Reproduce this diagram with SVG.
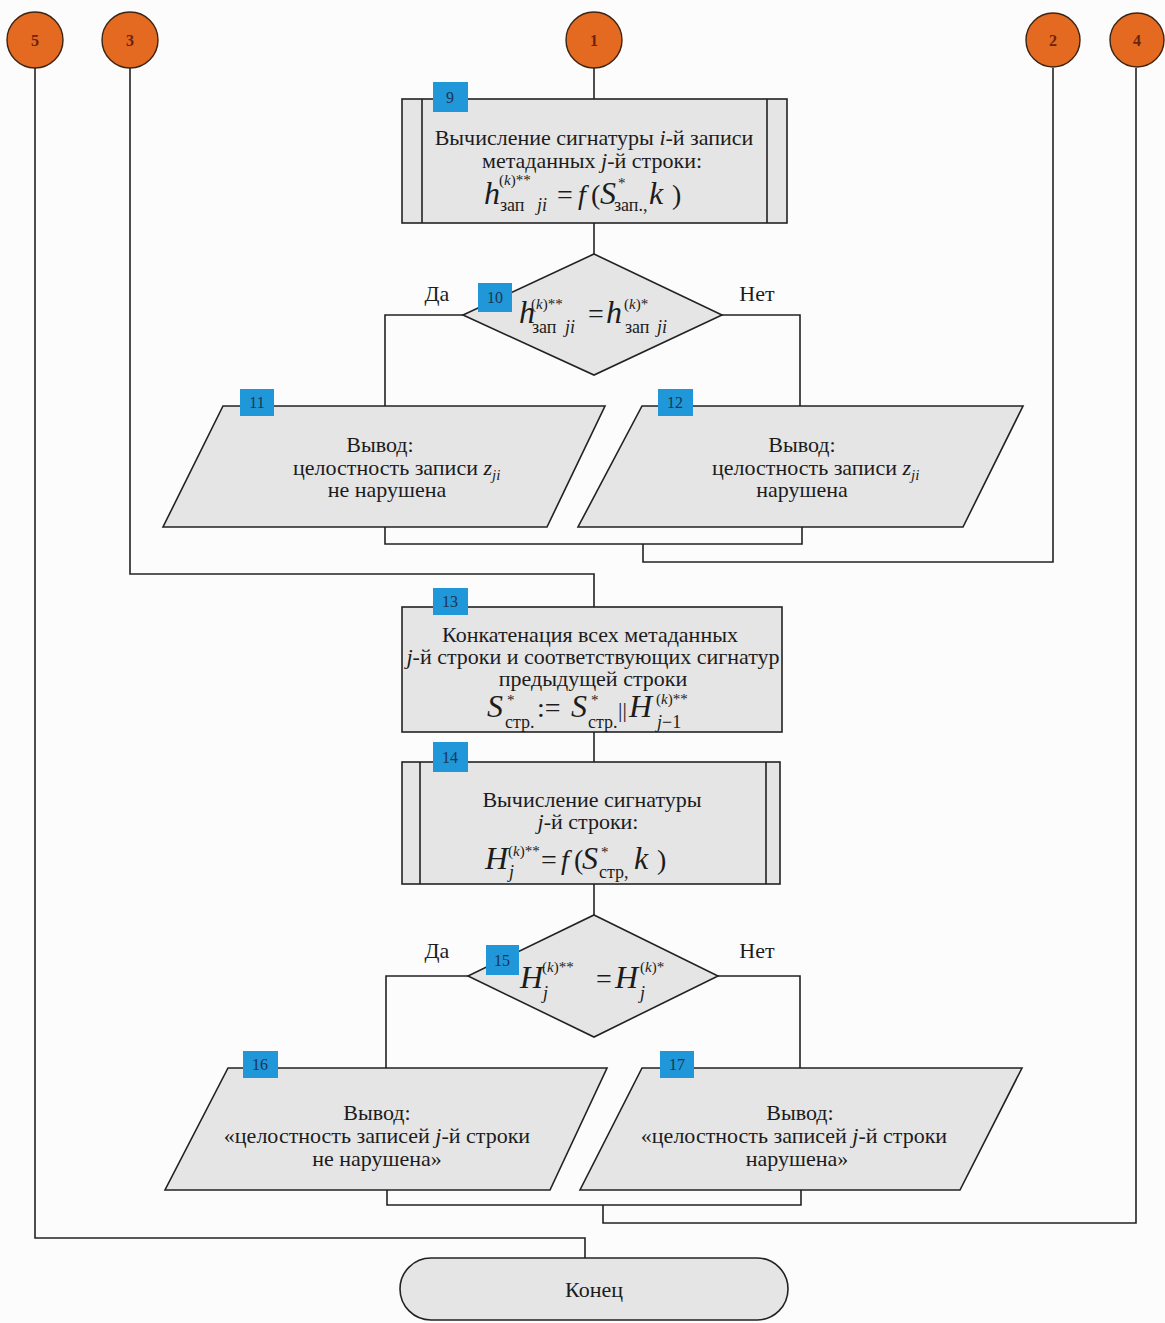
<svg xmlns="http://www.w3.org/2000/svg" width="1165" height="1323" viewBox="0 0 1165 1323">
  <style>
    .t { font-family: "Liberation Serif", "Times New Roman", serif; font-size: 22px; fill: #1c1c1c; }
    .m { font-size: 32px; font-style: italic; }
    .r { font-size: 28px; }
    .sp { font-size: 15px; }
    .sb { font-size: 18px; }
    .i { font-style: italic; }
    .shape { fill: #e5e5e5; stroke: #222; stroke-width: 1.6; }
    .wire { fill: none; stroke: #222; stroke-width: 1.6; }
    .badge { fill: #1f97d9; }
    .bt { font-family: "Liberation Serif", serif; font-size: 16px; fill: #1d3550; text-anchor: middle; }
    .conn { fill: #e36a20; stroke: #3a2414; stroke-width: 1.4; }
    .ct { font-family: "Liberation Serif", serif; font-size: 16px; font-weight: bold; fill: #6b2410; text-anchor: middle; }
    .c { text-anchor: middle; }
  </style>
  <rect width="1165" height="1323" fill="#fcfcfc"/>

  <!-- connectors -->
  <g id="connectors">
    <path class="wire" d="M594 68 V99"/>
    <path class="wire" d="M594 223 V254"/>
    <path class="wire" d="M463 315 H385 V406"/>
    <path class="wire" d="M722 315 H800 V406"/>
    <path class="wire" d="M385 527 V544 H802 V527"/>
    <path class="wire" d="M643 544 V562 H1053 V68"/>
    <path class="wire" d="M130 68 V574 H594 V607"/>
    <path class="wire" d="M594 732 V762"/>
    <path class="wire" d="M594 884 V915"/>
    <path class="wire" d="M468 976 H386 V1068"/>
    <path class="wire" d="M718 976 H800 V1068"/>
    <path class="wire" d="M387 1190 V1205 H801 V1190"/>
    <path class="wire" d="M603 1205 V1223 H1136 V68"/>
    <path class="wire" d="M35 68 V1238 H585 V1258"/>
  </g>

  <!-- off-page connectors -->
  <g id="conn-5"><circle class="conn" cx="35" cy="40" r="28"/><text class="ct" x="35" y="46">5</text></g>
  <g id="conn-3"><circle class="conn" cx="130" cy="40" r="28"/><text class="ct" x="130" y="46">3</text></g>
  <g id="conn-1"><circle class="conn" cx="594" cy="40" r="28"/><text class="ct" x="594" y="46">1</text></g>
  <g id="conn-2"><circle class="conn" cx="1053" cy="40" r="27"/><text class="ct" x="1053" y="46">2</text></g>
  <g id="conn-4"><circle class="conn" cx="1137" cy="40" r="27"/><text class="ct" x="1137" y="46">4</text></g>

  <!-- 9: record signature subroutine -->
  <g id="node-9">
    <rect class="shape" x="402" y="99" width="385" height="124"/>
    <path class="wire" d="M422 99 V223 M767 99 V223"/>
    <rect class="badge" x="433" y="82" width="35" height="30"/>
    <text class="bt" x="450" y="103">9</text>
    <text class="t c" x="594" y="145">Вычисление сигнатуры  <tspan class="i">i</tspan>-й записи</text>
    <text class="t c" x="592" y="168">метаданных <tspan class="i">j</tspan>-й строки:</text>
    <text class="t m" x="484" y="204">h</text>
    <text class="t sp" x="499" y="185">(<tspan class="i">k</tspan>)**</text>
    <text class="t sb" x="500" y="211">зап</text>
    <text class="t sb i" x="537" y="211">ji</text>
    <text class="t r" x="557" y="204">=</text>
    <text class="t r i" x="578" y="204">f</text>
    <text class="t r" x="591" y="204">(</text>
    <text class="t m" x="600" y="204">S</text>
    <text class="t sp" x="618" y="188">*</text>
    <text class="t sb" x="614" y="211">зап.,</text>
    <text class="t m" x="649" y="204">k</text>
    <text class="t r" x="672" y="204">)</text>
  </g>

  <!-- 10: record signature check -->
  <g id="node-10">
    <polygon class="shape" points="594,254 722,315 594,375 463,315"/>
    <rect class="badge" x="478" y="283" width="34" height="29"/>
    <text class="bt" x="495" y="303">10</text>
    <text class="t m" x="519" y="323">h</text>
    <text class="t sp" x="531" y="309">(<tspan class="i">k</tspan>)**</text>
    <text class="t sb" x="532" y="333">зап</text>
    <text class="t sb i" x="565" y="333">ji</text>
    <text class="t r" x="588" y="323">=</text>
    <text class="t m" x="606" y="323">h</text>
    <text class="t sp" x="624" y="309">(<tspan class="i">k</tspan>)*</text>
    <text class="t sb" x="625" y="333">зап</text>
    <text class="t sb i" x="657" y="333">ji</text>
    <text class="t c" x="437" y="301">Да</text>
    <text class="t c" x="757" y="301">Нет</text>
  </g>

  <!-- 11: record intact -->
  <g id="node-11">
    <polygon class="shape" points="223,406 605,406 547,527 163,527"/>
    <rect class="badge" x="240" y="389" width="34" height="27"/>
    <text class="bt" x="257" y="408">11</text>
    <text class="t c" x="380" y="452">Вывод:</text>
    <text class="t" x="293" y="475">целостность записи <tspan class="i">z</tspan><tspan class="i" font-size="15" dy="5">ji</tspan></text>
    <text class="t c" x="387" y="497">не нарушена</text>
  </g>

  <!-- 12: record violated -->
  <g id="node-12">
    <polygon class="shape" points="642,406 1023,406 963,527 578,527"/>
    <rect class="badge" x="658" y="389" width="35" height="27"/>
    <text class="bt" x="675" y="408">12</text>
    <text class="t c" x="802" y="452">Вывод:</text>
    <text class="t" x="712" y="475">целостность записи <tspan class="i">z</tspan><tspan class="i" font-size="15" dy="5">ji</tspan></text>
    <text class="t c" x="802" y="497">нарушена</text>
  </g>

  <!-- 13: concatenation -->
  <g id="node-13">
    <rect class="shape" x="402" y="607" width="380" height="125"/>
    <rect class="badge" x="433" y="588" width="35" height="27"/>
    <text class="bt" x="450" y="607">13</text>
    <text class="t c" x="590" y="642">Конкатенация всех метаданных</text>
    <text class="t c" x="593" y="664"><tspan class="i">j</tspan>-й строки и соответствующих сигнатур</text>
    <text class="t c" x="593" y="686">предыдущей строки</text>
    <text class="t m" x="487" y="717">S</text>
    <text class="t sp" x="507" y="705">*</text>
    <text class="t sb" x="505" y="728">стр.</text>
    <text class="t r" x="537" y="717">:=</text>
    <text class="t m" x="571" y="717">S</text>
    <text class="t sp" x="591" y="705">*</text>
    <text class="t sb" x="588" y="728">стр.</text>
    <text class="t" x="618" y="717" font-size="24">||</text>
    <text class="t m" x="629" y="717">H</text>
    <text class="t sp" x="656" y="704">(<tspan class="i">k</tspan>)**</text>
    <text class="t sb" x="657" y="728"><tspan class="i">j</tspan>−1</text>
  </g>

  <!-- 14: row signature subroutine -->
  <g id="node-14">
    <rect class="shape" x="402" y="762" width="378" height="122"/>
    <path class="wire" d="M420 762 V884 M766 762 V884"/>
    <rect class="badge" x="433" y="742" width="35" height="30"/>
    <text class="bt" x="450" y="763">14</text>
    <text class="t c" x="592" y="807">Вычисление сигнатуры</text>
    <text class="t c" x="588" y="829"><tspan class="i">j</tspan>-й строки:</text>
    <text class="t m" x="485" y="869">H</text>
    <text class="t sp" x="508" y="856">(<tspan class="i">k</tspan>)**</text>
    <text class="t sb i" x="509" y="878">j</text>
    <text class="t r" x="541" y="869">=</text>
    <text class="t r i" x="561" y="869">f</text>
    <text class="t r" x="574" y="869">(</text>
    <text class="t m" x="582" y="869">S</text>
    <text class="t sp" x="601" y="857">*</text>
    <text class="t sb" x="599" y="878">стр,</text>
    <text class="t m" x="634" y="869">k</text>
    <text class="t r" x="657" y="869">)</text>
  </g>

  <!-- 15: row signature check -->
  <g id="node-15">
    <polygon class="shape" points="594,915 718,976 594,1037 468,976"/>
    <rect class="badge" x="486" y="945" width="33" height="30"/>
    <text class="bt" x="502" y="966">15</text>
    <text class="t m" x="520" y="988">H</text>
    <text class="t sp" x="542" y="972">(<tspan class="i">k</tspan>)**</text>
    <text class="t sb i" x="543" y="999">j</text>
    <text class="t r" x="596" y="988">=</text>
    <text class="t m" x="615" y="988">H</text>
    <text class="t sp" x="640" y="972">(<tspan class="i">k</tspan>)*</text>
    <text class="t sb i" x="640" y="999">j</text>
    <text class="t c" x="437" y="958">Да</text>
    <text class="t c" x="757" y="958">Нет</text>
  </g>

  <!-- 16: row intact -->
  <g id="node-16">
    <polygon class="shape" points="228,1068 607,1068 550,1190 165,1190"/>
    <rect class="badge" x="243" y="1051" width="35" height="27"/>
    <text class="bt" x="260" y="1070">16</text>
    <text class="t c" x="377" y="1120">Вывод:</text>
    <text class="t c" x="377" y="1143">«целостность записей  <tspan class="i">j</tspan>-й строки</text>
    <text class="t c" x="377" y="1166">не нарушена»</text>
  </g>

  <!-- 17: row violated -->
  <g id="node-17">
    <polygon class="shape" points="642,1068 1022,1068 960,1190 580,1190"/>
    <rect class="badge" x="660" y="1051" width="34" height="27"/>
    <text class="bt" x="677" y="1070">17</text>
    <text class="t c" x="800" y="1120">Вывод:</text>
    <text class="t c" x="794" y="1143">«целостность записей  <tspan class="i">j</tspan>-й строки</text>
    <text class="t c" x="797" y="1166">нарушена»</text>
  </g>

  <!-- end terminator -->
  <g id="node-end">
    <rect class="shape" x="400" y="1258" width="388" height="62" rx="31"/>
    <text class="t c" x="594" y="1297">Конец</text>
  </g>
</svg>
